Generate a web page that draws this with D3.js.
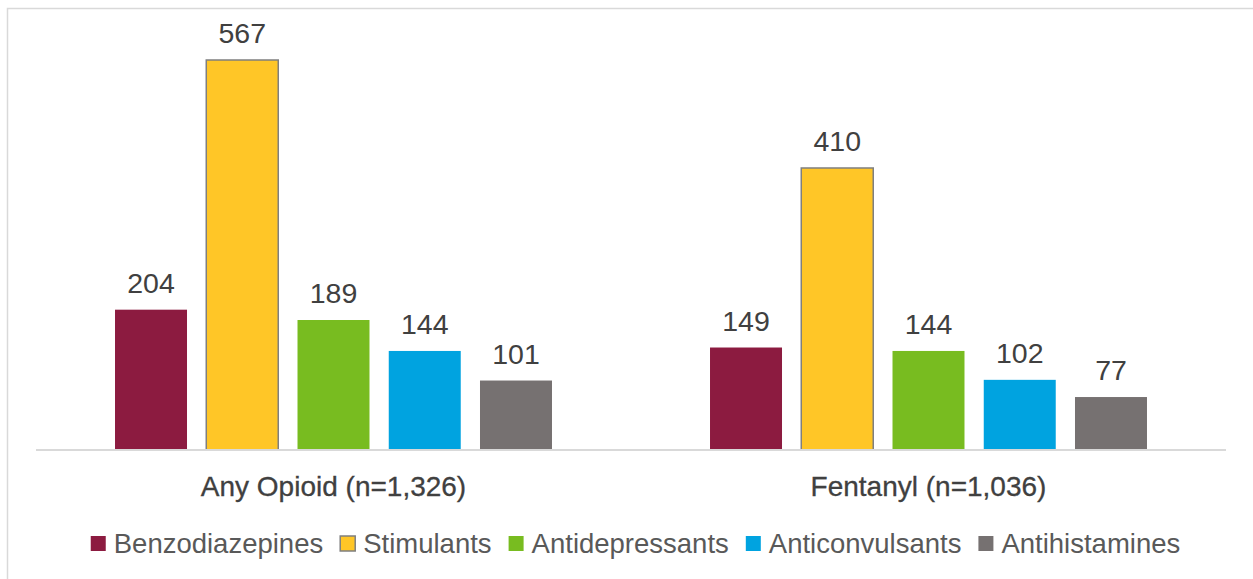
<!DOCTYPE html>
<html>
<head>
<meta charset="utf-8">
<script src="https://cdn.jsdelivr.net/npm/d3@7/dist/d3.min.js"></script>
<style>
  html, body { margin: 0; padding: 0; background: #fff; }
  svg { display: block; }
  text { font-family: "Liberation Sans", Arial, sans-serif; }
</style>
</head>
<body>
<svg id="chart" width="1253" height="579"></svg>
<script>
// Counts of co-involved drug classes per opioid group
const groups = ["Any Opioid (n=1,326)", "Fentanyl (n=1,036)"];
const series = ["Benzodiazepines", "Stimulants", "Antidepressants", "Anticonvulsants", "Antihistamines"];
const anyOpioid = [204, 567, 189, 144, 101];
const fentanyl  = [149, 410, 144, 102, 77];
const colors = ["#8c1b40", "#ffc627", "#78bc20", "#00a3e0", "#767171"];

const values = [anyOpioid, fentanyl];
const rows = groups.map((g, gi) => ({
  group: g,
  bars: series.map((s, si) => ({ series: s, value: values[gi][si] }))
}));

const svg = d3.select("#chart");

// outer frame
svg.append("rect")
  .attr("x", 7.5).attr("y", 8.5)
  .attr("width", 1260).attr("height", 600)
  .attr("fill", "none").attr("stroke", "#d9d9d9").attr("stroke-width", 1.5);

const plot = { left: 36, right: 1226, bottom: 450 };

const y = d3.scaleLinear().domain([0, 600]).range([plot.bottom, plot.bottom - 600 * (390 / 567)]);
const x0 = d3.scaleBand().domain(groups).range([plot.left, plot.right]);
const x1 = d3.scaleBand().domain(series).range([0, x0.bandwidth()])
  .paddingInner(0.211).paddingOuter(0.866);
const color = d3.scaleOrdinal().domain(series).range(colors);

const g = svg.append("g");

const grp = g.selectAll("g.grp").data(rows).join("g")
  .attr("class", "grp")
  .attr("transform", d => `translate(${x0(d.group)},0)`);

grp.selectAll("rect").data(d => d.bars).join("rect")
  .attr("x", d => x1(d.series))
  .attr("y", d => y(d.value))
  .attr("width", x1.bandwidth())
  .attr("height", d => y(0) - y(d.value))
  .attr("fill", d => color(d.series))
  .attr("stroke", d => d.series === "Stimulants" ? "#7f7f7f" : "none")
  .attr("stroke-width", 1.5);

grp.selectAll("text.val").data(d => d.bars).join("text")
  .attr("class", "val")
  .attr("x", d => x1(d.series) + x1.bandwidth() / 2)
  .attr("y", d => y(d.value) - 17)
  .attr("text-anchor", "middle")
  .attr("font-size", 28.5)
  .attr("fill", "#404040")
  .text(d => d.value);

// category axis
const xAxis = d3.axisBottom(x0).tickSize(0).tickPadding(0);
const axisG = svg.append("g")
  .attr("transform", `translate(0,${plot.bottom})`)
  .call(xAxis);
axisG.select(".domain").attr("stroke", "#d9d9d9").attr("stroke-width", 2)
  .attr("d", `M${plot.left},0H${plot.right}`);
axisG.selectAll(".tick text")
  .attr("y", 46).attr("dy", null)
  .attr("font-size", 28)
  .attr("font-family", "\"Liberation Sans\", Arial, sans-serif")
  .attr("fill", "#404040")
  .attr("stroke", "#404040").attr("stroke-width", 0.3);

// legend
const legend = svg.append("g").attr("transform", "translate(0,553)");
const items = legend.selectAll("g").data(series).join("g");
items.append("rect")
  .attr("y", -17).attr("width", 15).attr("height", 15)
  .attr("fill", d => color(d))
  .attr("stroke", d => d === "Stimulants" ? "#7f7f7f" : "none")
  .attr("stroke-width", 1.5);
items.append("text")
  .attr("x", 23)
  .attr("font-size", 27.5)
  .attr("fill", "#595959")
  .text(d => d);

let widths = [];
items.each(function () { widths.push(this.getBBox().width); });
const gap = 17;
const total = d3.sum(widths) + gap * (widths.length - 1);
let cx = 635.5 - total / 2;
items.attr("transform", (d, i) => {
  const t = `translate(${cx},0)`;
  cx += widths[i] + gap;
  return t;
});
</script>
</body>
</html>
